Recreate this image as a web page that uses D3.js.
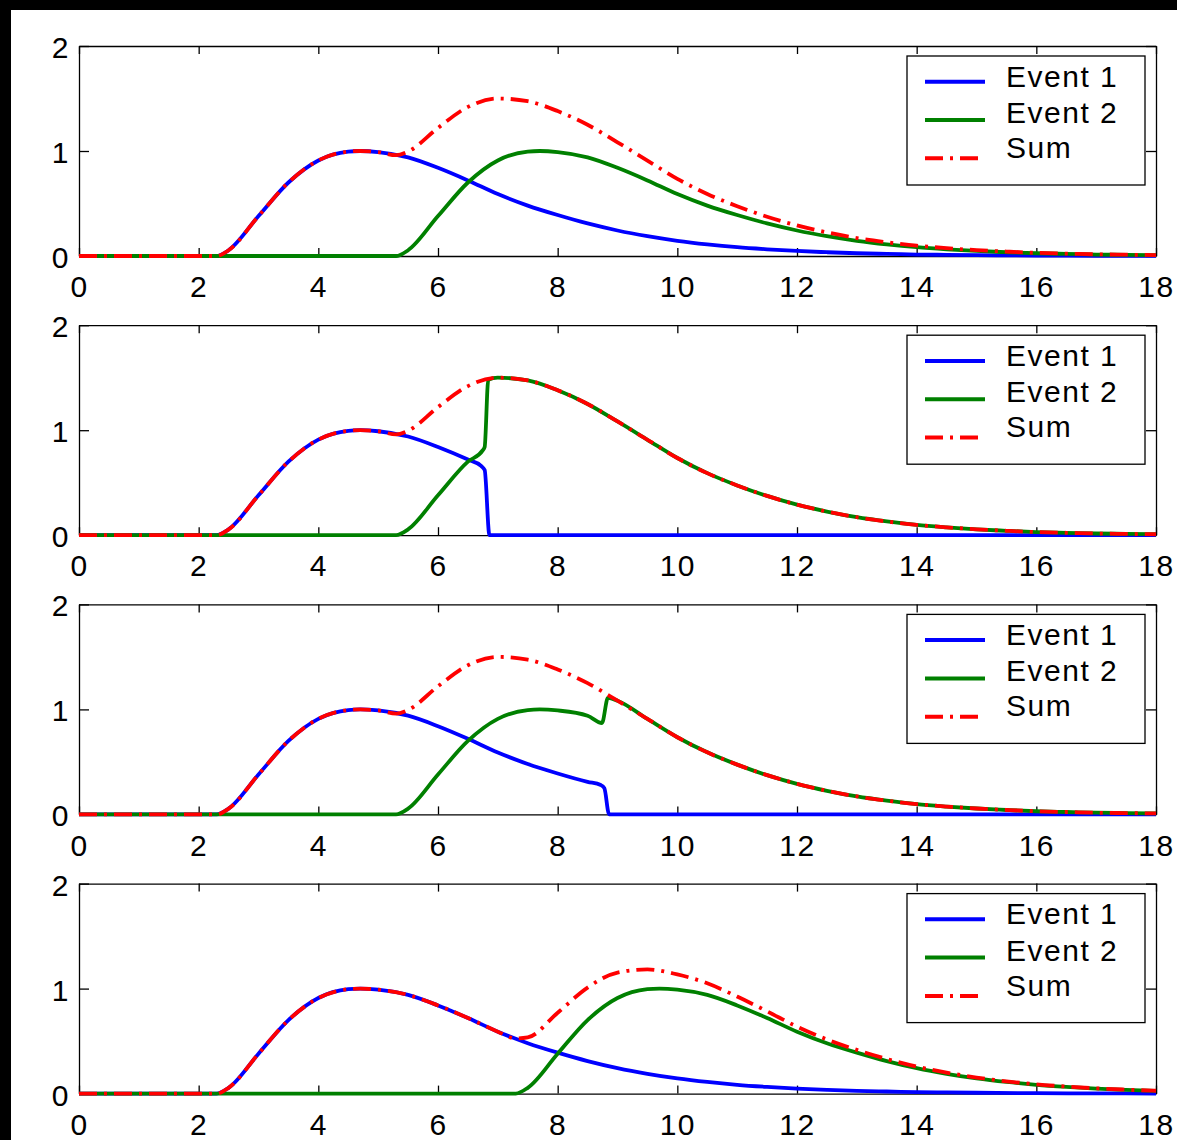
<!DOCTYPE html>
<html>
<head>
<meta charset="utf-8">
<script src="https://cdn.jsdelivr.net/npm/d3@7"></script>
<style>
  body { margin: 0; background: #000; }
  svg { display: block; }
</style>
</head>
<body>
<div id="chart"></div>
<script>
const xTicks = [0, 2, 4, 6, 8, 10, 12, 14, 16, 18]
const yTicks = [0, 1, 2]
const legendLabels = ['Event 1', 'Event 2', 'Sum']

// [x, y] pairs
const event1Full = [[0,0],[2.3,0],[2.5,0.055],[3,0.38],[3.5,0.70],[4,0.91],[4.5,0.994],[4.7,1.0],[5,0.99],[5.5,0.94],[6,0.84],[6.5,0.72],[7,0.59],[7.5,0.48],[8,0.39],[8.5,0.31],[9,0.243],[9.5,0.189],[10,0.145],[10.5,0.111],[11,0.084],[11.5,0.064],[12,0.048],[12.5,0.036],[13,0.026],[13.5,0.020],[14,0.014],[14.5,0.011],[15,0.008],[16,0.004],[17,0.002],[18,0.001]]

const event2Shift3 = [[0,0],[5.3,0],[5.5,0.055],[6,0.38],[6.5,0.70],[7,0.91],[7.5,0.994],[7.7,1.0],[8,0.99],[8.5,0.94],[9,0.84],[9.5,0.72],[10,0.59],[10.5,0.48],[11,0.39],[11.5,0.31],[12,0.243],[12.5,0.189],[13,0.145],[13.5,0.111],[14,0.084],[14.5,0.064],[15,0.048],[15.5,0.036],[16,0.026],[16.5,0.020],[17,0.014],[17.5,0.011],[18,0.008]]

const sumShift3 = [[0,0],[2.3,0],[2.5,0.055],[3,0.38],[3.5,0.70],[4,0.91],[4.5,0.994],[4.7,1.0],[5,0.99],[5.3,0.96],[5.5,0.995],[6,1.22],[6.5,1.42],[7,1.50],[7.5,1.474],[8,1.38],[8.5,1.25],[9,1.083],[9.5,0.909],[10,0.735],[10.5,0.591],[11,0.474],[11.5,0.374],[12,0.291],[12.5,0.225],[13,0.171],[13.5,0.131],[14,0.098],[14.5,0.075],[15,0.056],[15.5,0.042],[16,0.030],[16.5,0.023],[17,0.016],[17.5,0.0125],[18,0.009]]

const event1Cut7 = [[0,0],[2.3,0],[2.5,0.055],[3,0.38],[3.5,0.70],[4,0.91],[4.5,0.994],[4.7,1.0],[5,0.99],[5.5,0.94],[6,0.84],[6.5,0.72],[6.72,0.66],[6.78,0.62],[6.86,0],[18,0]]

const event2Merge7 = [[0,0],[5.3,0],[5.5,0.055],[6,0.38],[6.5,0.70],[6.75,0.81],[6.78,0.84],[6.84,1.48],[7,1.50],[7.5,1.474],[8,1.38],[8.5,1.25],[9,1.083],[9.5,0.909],[10,0.735],[10.5,0.591],[11,0.474],[11.5,0.374],[12,0.291],[12.5,0.225],[13,0.171],[13.5,0.131],[14,0.098],[14.5,0.075],[15,0.056],[15.5,0.042],[16,0.030],[16.5,0.023],[17,0.016],[17.5,0.0125],[18,0.009]]

const event1Cut9 = [[0,0],[2.3,0],[2.5,0.055],[3,0.38],[3.5,0.70],[4,0.91],[4.5,0.994],[4.7,1.0],[5,0.99],[5.5,0.94],[6,0.84],[6.5,0.72],[7,0.59],[7.5,0.48],[8,0.39],[8.5,0.31],[8.72,0.28],[8.78,0.25],[8.86,0],[18,0]]

const event2Merge9 = [[0,0],[5.3,0],[5.5,0.055],[6,0.38],[6.5,0.70],[7,0.91],[7.5,0.994],[7.7,1.0],[8,0.99],[8.5,0.94],[8.74,0.87],[8.84,1.11],[9,1.083],[9.5,0.909],[10,0.735],[10.5,0.591],[11,0.474],[11.5,0.374],[12,0.291],[12.5,0.225],[13,0.171],[13.5,0.131],[14,0.098],[14.5,0.075],[15,0.056],[15.5,0.042],[16,0.030],[16.5,0.023],[17,0.016],[17.5,0.0125],[18,0.009]]

const event2Shift5 = [[0,0],[7.3,0],[7.5,0.055],[8,0.38],[8.5,0.70],[9,0.91],[9.5,0.994],[9.7,1.0],[10,0.99],[10.5,0.94],[11,0.84],[11.5,0.72],[12,0.59],[12.5,0.48],[13,0.39],[13.5,0.31],[14,0.243],[14.5,0.189],[15,0.145],[15.5,0.111],[16,0.084],[16.5,0.064],[17,0.048],[17.5,0.036],[18,0.026]]

const sumShift5 = [[0,0],[2.3,0],[2.5,0.055],[3,0.38],[3.5,0.70],[4,0.91],[4.5,0.994],[4.7,1.0],[5,0.99],[5.5,0.94],[6,0.84],[6.5,0.72],[7,0.59],[7.3,0.525],[7.5,0.535],[8,0.77],[8.5,1.01],[9,1.153],[9.5,1.183],[10,1.135],[10.5,1.051],[11,0.924],[11.5,0.784],[12,0.638],[12.5,0.516],[13,0.416],[13.5,0.33],[14,0.257],[14.5,0.2],[15,0.153],[15.5,0.117],[16,0.088],[16.5,0.067],[17,0.05],[17.5,0.0375],[18,0.027]]

const panels = [
    [event1Full, event2Shift3, sumShift3],
    [event1Cut7, event2Merge7, sumShift3],
    [event1Cut9, event2Merge9, sumShift3],
    [event1Full, event2Shift5, sumShift5]
]

const colors = ['#0000ff', '#008000', '#ff0000']
const dashes = [null, null, '18,7,3,7']

const W = 1177, H = 1140
const left = 79, plotW = 1077, plotH = 210,
    firstTop = 46, step = 279.2
const font = '"Liberation Sans", Arial, sans-serif'

const svg = d3.select('#chart').append('svg')
    .attr('width', W)
    .attr('height', H)

svg.append('rect')
    .attr('x', 11).attr('y', 10)
    .attr('width', W - 11).attr('height', H - 10)
    .attr('fill', '#fff')

const xS = d3.scaleLinear().domain([0, 18]).range([0, plotW])
const yS = d3.scaleLinear().domain([0, 2]).range([plotH, 0])

const line = d3.line()
    .x(d => xS(d[0]))
    .y(d => yS(d[1]))
    .curve(d3.curveMonotoneX)

function styleAxis(g, withText) {
    g.select('.domain').attr('stroke', '#000').attr('stroke-width', 1.3)
    g.selectAll('.tick line').attr('stroke', '#000').attr('stroke-width', 1.3)
    g.selectAll('text')
        .attr('fill', '#000')
        .style('font-family', font)
        .style('font-size', '30px')
        .style('letter-spacing', '1.5px')
    if (!withText) g.selectAll('text').remove()
}

panels.forEach((series, i) => {
    const g = svg.append('g')
        .attr('transform', 'translate(' + left + ', ' + (firstTop + i * step) + ')')

    g.append('g')
        .attr('transform', 'translate(0, ' + plotH + ')')
        .call(d3.axisBottom(xS).tickValues(xTicks).tickFormat(d3.format('d'))
            .tickSize(-8).tickSizeOuter(0).tickPadding(20))
        .call(a => styleAxis(a, true))
    g.append('g')
        .call(d3.axisTop(xS).tickValues(xTicks).tickSize(-8).tickSizeOuter(0))
        .call(a => styleAxis(a, false))
    g.append('g')
        .call(d3.axisLeft(yS).tickValues(yTicks).tickFormat(d3.format('d'))
            .tickSize(-10).tickSizeOuter(0).tickPadding(9))
        .call(a => styleAxis(a, true))
        .selectAll('text').attr('dy', '0.38em')
    g.append('g')
        .attr('transform', 'translate(' + plotW + ', 0)')
        .call(d3.axisRight(yS).tickValues(yTicks).tickSize(-10).tickSizeOuter(0))
        .call(a => styleAxis(a, false))

    series.forEach((pts, k) => {
        g.append('path')
            .datum(pts)
            .attr('d', line)
            .attr('fill', 'none')
            .attr('stroke', colors[k])
            .attr('stroke-width', 3.8)
            .attr('stroke-dasharray', dashes[k])
    })

    // legend
    const lg = g.append('g').attr('transform', 'translate(828, 10)')
    lg.append('rect')
        .attr('width', 238).attr('height', 129)
        .attr('fill', '#fff')
        .attr('stroke', '#000')
        .attr('stroke-width', 1.3)
    const lineY = [25.7, 64, 102.3]
    const textY = [30.7, 67, 102]
    legendLabels.forEach((lab, k) => {
        lg.append('line')
            .attr('x1', 18).attr('x2', 78)
            .attr('y1', lineY[k]).attr('y2', lineY[k])
            .attr('stroke', colors[k])
            .attr('stroke-width', 4)
            .attr('stroke-dasharray', dashes[k])
        lg.append('text')
            .attr('x', 99).attr('y', textY[k])
            .style('font-family', font)
            .style('font-size', '30px')
            .style('letter-spacing', '1.5px')
            .text(lab)
    })
})
</script>
</body>
</html>
